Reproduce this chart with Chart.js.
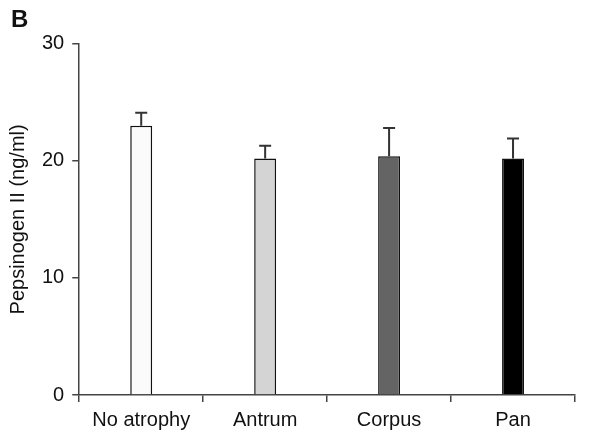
<!DOCTYPE html>
<html>
<head>
<meta charset="utf-8">
<script src="https://cdn.jsdelivr.net/npm/chart.js@4.4.1/dist/chart.umd.min.js"></script>
<style>
  body { margin: 0; background: #fff; }
  #wrap { width: 608px; height: 432px; }
</style>
</head>
<body>
<div id="wrap"><canvas id="chart" width="608" height="432"></canvas></div>
<script>
// =======================
// Data
// =======================
const categories = ['No atrophy', 'Antrum', 'Corpus', 'Pan'];
const meanValues = [23.0, 20.2, 20.4, 20.2];
const errorValues = [1.1, 1.1, 2.4, 1.7];
const barColors = ['#fbfbfb', '#d4d4d4', '#646464', '#000000'];
const yTicks = [0, 10, 20, 30];

const FONT = 'Arial, "Liberation Sans", sans-serif';

// error bars (upper only) drawn from the dataset values via the scales
const errorBarPlugin = {
    id: 'errorBars',
    afterDatasetsDraw(chart) {
        const ctx = chart.ctx;
        const x = chart.scales.x, y = chart.scales.y;
        ctx.save();
        ctx.strokeStyle = '#333';
        ctx.lineWidth = 2;
        meanValues.forEach((v, i) => {
            const px = x.getPixelForValue(i);
            const top = y.getPixelForValue(v + errorValues[i]);
            const base = y.getPixelForValue(v);
            ctx.beginPath();
            ctx.moveTo(px, base);
            ctx.lineTo(px, top);
            ctx.moveTo(px - 6, top);
            ctx.lineTo(px + 6, top);
            ctx.stroke();
        });
        ctx.restore();
    }
};

new Chart(document.getElementById('chart').getContext('2d'), {
    type: 'bar',
    data: {
        labels: categories,
        datasets: [{
            data: meanValues,
            backgroundColor: barColors,
            borderColor: '#111',
            borderWidth: 1.5,
            categoryPercentage: 1,
            barPercentage: 0.177
        }]
    },
    options: {
        responsive: false,
        animation: false,
        layout: { padding: { left: 11, right: 33, top: 4, bottom: -6 } },
        plugins: {
            legend: { display: false },
            tooltip: { enabled: false },
            title: {
                display: true,
                text: 'B',
                align: 'start',
                color: '#111',
                font: { family: FONT, size: 24, weight: 'bold' },
                padding: { top: 2, bottom: 9 }
            }
        },
        scales: {
            x: {
                offset: true,
                grid: {
                    display: true,
                    offset: true,
                    drawOnChartArea: false,
                    drawTicks: true,
                    tickLength: 7,
                    color: '#444',
                    lineWidth: 1.5
                },
                border: { display: true, color: '#444', width: 1.5 },
                ticks: {
                    color: '#111',
                    padding: 6,
                    font: { family: FONT, size: 20 }
                }
            },
            y: {
                min: 0,
                max: 30,
                afterBuildTicks: axis => { axis.ticks = yTicks.map(v => ({ value: v })); },
                grid: {
                    display: true,
                    drawOnChartArea: false,
                    drawTicks: true,
                    tickLength: 7,
                    color: '#444',
                    lineWidth: 1.5
                },
                border: { display: true, color: '#444', width: 1.5 },
                ticks: {
                    color: '#111',
                    padding: 8,
                    font: { family: FONT, size: 20 }
                },
                title: {
                    display: true,
                    text: 'Pepsinogen II (ng/ml)',
                    color: '#111',
                    font: { family: FONT, size: 20 },
                    padding: { top: -5, bottom: 4 }
                }
            }
        }
    },
    plugins: [errorBarPlugin]
});
</script>
</body>
</html>
